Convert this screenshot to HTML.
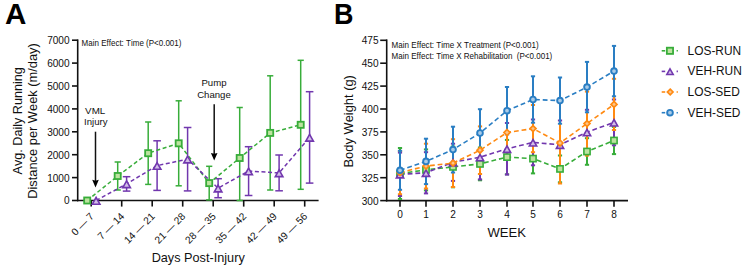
<!DOCTYPE html><html><head><meta charset="utf-8"><style>html,body{margin:0;padding:0;background:#fff;}svg{display:block;}text{font-family:"Liberation Sans", sans-serif;font-kerning:none;}</style></head><body>
<svg width="746" height="270" viewBox="0 0 746 270">
<rect width="746" height="270" fill="#fff"/>
<text x="4.90" y="24.30" font-size="29.6" text-anchor="start" font-weight="bold" fill="#000" >A</text>
<line x1="77.70" y1="39.40" x2="77.70" y2="201.30" stroke="#111" stroke-width="1.6" />
<line x1="72.00" y1="200.50" x2="77.70" y2="200.50" stroke="#111" stroke-width="1.6" />
<text x="69.60" y="204.40" font-size="10.1" text-anchor="end" font-weight="normal" fill="#111" >0</text>
<line x1="72.00" y1="177.60" x2="77.70" y2="177.60" stroke="#111" stroke-width="1.6" />
<text x="69.60" y="181.50" font-size="10.1" text-anchor="end" font-weight="normal" fill="#111" >1000</text>
<line x1="72.00" y1="154.70" x2="77.70" y2="154.70" stroke="#111" stroke-width="1.6" />
<text x="69.60" y="158.60" font-size="10.1" text-anchor="end" font-weight="normal" fill="#111" >2000</text>
<line x1="72.00" y1="131.80" x2="77.70" y2="131.80" stroke="#111" stroke-width="1.6" />
<text x="69.60" y="135.70" font-size="10.1" text-anchor="end" font-weight="normal" fill="#111" >3000</text>
<line x1="72.00" y1="108.90" x2="77.70" y2="108.90" stroke="#111" stroke-width="1.6" />
<text x="69.60" y="112.80" font-size="10.1" text-anchor="end" font-weight="normal" fill="#111" >4000</text>
<line x1="72.00" y1="86.00" x2="77.70" y2="86.00" stroke="#111" stroke-width="1.6" />
<text x="69.60" y="89.90" font-size="10.1" text-anchor="end" font-weight="normal" fill="#111" >5000</text>
<line x1="72.00" y1="63.10" x2="77.70" y2="63.10" stroke="#111" stroke-width="1.6" />
<text x="69.60" y="67.00" font-size="10.1" text-anchor="end" font-weight="normal" fill="#111" >6000</text>
<line x1="72.00" y1="40.20" x2="77.70" y2="40.20" stroke="#111" stroke-width="1.6" />
<text x="69.60" y="44.10" font-size="10.1" text-anchor="end" font-weight="normal" fill="#111" >7000</text>
<line x1="76.90" y1="200.50" x2="318.60" y2="200.50" stroke="#111" stroke-width="1.6" />
<line x1="91.20" y1="200.50" x2="91.20" y2="206.60" stroke="#111" stroke-width="1.6" />
<text x="0" y="0" font-size="10.2" text-anchor="end" fill="#111" transform="translate(94.60,217.0) rotate(-45)">0 — 7</text>
<line x1="121.70" y1="200.50" x2="121.70" y2="206.60" stroke="#111" stroke-width="1.6" />
<text x="0" y="0" font-size="10.2" text-anchor="end" fill="#111" transform="translate(125.10,217.0) rotate(-45)">7 — 14</text>
<line x1="152.20" y1="200.50" x2="152.20" y2="206.60" stroke="#111" stroke-width="1.6" />
<text x="0" y="0" font-size="10.2" text-anchor="end" fill="#111" transform="translate(155.60,217.0) rotate(-45)">14 — 21</text>
<line x1="182.70" y1="200.50" x2="182.70" y2="206.60" stroke="#111" stroke-width="1.6" />
<text x="0" y="0" font-size="10.2" text-anchor="end" fill="#111" transform="translate(186.10,217.0) rotate(-45)">21 — 28</text>
<line x1="213.20" y1="200.50" x2="213.20" y2="206.60" stroke="#111" stroke-width="1.6" />
<text x="0" y="0" font-size="10.2" text-anchor="end" fill="#111" transform="translate(216.60,217.0) rotate(-45)">28 — 35</text>
<line x1="243.70" y1="200.50" x2="243.70" y2="206.60" stroke="#111" stroke-width="1.6" />
<text x="0" y="0" font-size="10.2" text-anchor="end" fill="#111" transform="translate(247.10,217.0) rotate(-45)">35 — 42</text>
<line x1="274.20" y1="200.50" x2="274.20" y2="206.60" stroke="#111" stroke-width="1.6" />
<text x="0" y="0" font-size="10.2" text-anchor="end" fill="#111" transform="translate(277.60,217.0) rotate(-45)">42 — 49</text>
<line x1="304.70" y1="200.50" x2="304.70" y2="206.60" stroke="#111" stroke-width="1.6" />
<text x="0" y="0" font-size="10.2" text-anchor="end" fill="#111" transform="translate(308.10,217.0) rotate(-45)">49 — 56</text>
<text x="198.20" y="261.70" font-size="12.7" text-anchor="middle" font-weight="normal" fill="#111" >Days Post-Injury</text>
<text x="0" y="0" font-size="12.64" text-anchor="middle" fill="#111" transform="translate(22.3,120.8) rotate(-90)">Avg. Daily Running</text>
<text x="0" y="0" font-size="12.85" text-anchor="middle" fill="#111" transform="translate(37.1,121.0) rotate(-90)">Distance per Week (m/day)</text>
<text x="81.60" y="46.10" font-size="8.45" text-anchor="start" font-weight="normal" fill="#111" textLength="99.85" lengthAdjust="spacingAndGlyphs">Main Effect: Time (P&lt;0.001)</text>
<text x="95.20" y="113.50" font-size="9.8" text-anchor="middle" font-weight="normal" fill="#111" >VML</text>
<text x="95.80" y="125.30" font-size="9.6" text-anchor="middle" font-weight="normal" fill="#111" >Injury</text>
<line x1="95.50" y1="131.70" x2="95.50" y2="181.00" stroke="#111" stroke-width="1.5" />
<polygon points="92.2,179.8 95.5,180.7 98.8,179.8 95.5,187.6" fill="#000"/>
<text x="214.00" y="86.40" font-size="9.6" text-anchor="middle" font-weight="normal" fill="#111" >Pump</text>
<text x="214.00" y="98.30" font-size="9.6" text-anchor="middle" font-weight="normal" fill="#111" >Change</text>
<line x1="214.20" y1="104.20" x2="214.20" y2="154.00" stroke="#111" stroke-width="1.5" />
<polygon points="210.9,152.9 214.2,153.8 217.5,152.9 214.2,160.4" fill="#000"/>
<line x1="117.70" y1="162.00" x2="117.70" y2="190.00" stroke="#38ad3a" stroke-width="1.5" />
<line x1="114.60" y1="162.00" x2="120.80" y2="162.00" stroke="#38ad3a" stroke-width="1.5" />
<line x1="114.60" y1="190.00" x2="120.80" y2="190.00" stroke="#38ad3a" stroke-width="1.5" />
<line x1="148.20" y1="122.00" x2="148.20" y2="184.40" stroke="#38ad3a" stroke-width="1.5" />
<line x1="145.10" y1="122.00" x2="151.30" y2="122.00" stroke="#38ad3a" stroke-width="1.5" />
<line x1="145.10" y1="184.40" x2="151.30" y2="184.40" stroke="#38ad3a" stroke-width="1.5" />
<line x1="178.70" y1="100.80" x2="178.70" y2="185.80" stroke="#38ad3a" stroke-width="1.5" />
<line x1="175.60" y1="100.80" x2="181.80" y2="100.80" stroke="#38ad3a" stroke-width="1.5" />
<line x1="175.60" y1="185.80" x2="181.80" y2="185.80" stroke="#38ad3a" stroke-width="1.5" />
<line x1="209.20" y1="166.30" x2="209.20" y2="199.90" stroke="#38ad3a" stroke-width="1.5" />
<line x1="206.10" y1="166.30" x2="212.30" y2="166.30" stroke="#38ad3a" stroke-width="1.5" />
<line x1="206.10" y1="199.90" x2="212.30" y2="199.90" stroke="#38ad3a" stroke-width="1.5" />
<line x1="239.70" y1="107.50" x2="239.70" y2="200.50" stroke="#38ad3a" stroke-width="1.5" />
<line x1="236.60" y1="107.50" x2="242.80" y2="107.50" stroke="#38ad3a" stroke-width="1.5" />
<line x1="236.60" y1="200.50" x2="242.80" y2="200.50" stroke="#38ad3a" stroke-width="1.5" />
<line x1="270.20" y1="75.80" x2="270.20" y2="190.00" stroke="#38ad3a" stroke-width="1.5" />
<line x1="267.10" y1="75.80" x2="273.30" y2="75.80" stroke="#38ad3a" stroke-width="1.5" />
<line x1="267.10" y1="190.00" x2="273.30" y2="190.00" stroke="#38ad3a" stroke-width="1.5" />
<line x1="300.70" y1="60.30" x2="300.70" y2="189.30" stroke="#38ad3a" stroke-width="1.5" />
<line x1="297.60" y1="60.30" x2="303.80" y2="60.30" stroke="#38ad3a" stroke-width="1.5" />
<line x1="297.60" y1="189.30" x2="303.80" y2="189.30" stroke="#38ad3a" stroke-width="1.5" />
<line x1="126.60" y1="176.70" x2="126.60" y2="191.10" stroke="#7137ae" stroke-width="1.5" />
<line x1="122.80" y1="176.70" x2="130.40" y2="176.70" stroke="#7137ae" stroke-width="1.5" />
<line x1="122.80" y1="191.10" x2="130.40" y2="191.10" stroke="#7137ae" stroke-width="1.5" />
<line x1="157.10" y1="140.80" x2="157.10" y2="190.40" stroke="#7137ae" stroke-width="1.5" />
<line x1="153.30" y1="140.80" x2="160.90" y2="140.80" stroke="#7137ae" stroke-width="1.5" />
<line x1="153.30" y1="190.40" x2="160.90" y2="190.40" stroke="#7137ae" stroke-width="1.5" />
<line x1="187.60" y1="127.50" x2="187.60" y2="190.90" stroke="#7137ae" stroke-width="1.5" />
<line x1="183.80" y1="127.50" x2="191.40" y2="127.50" stroke="#7137ae" stroke-width="1.5" />
<line x1="183.80" y1="190.90" x2="191.40" y2="190.90" stroke="#7137ae" stroke-width="1.5" />
<line x1="218.10" y1="178.70" x2="218.10" y2="197.70" stroke="#7137ae" stroke-width="1.5" />
<line x1="214.30" y1="178.70" x2="221.90" y2="178.70" stroke="#7137ae" stroke-width="1.5" />
<line x1="214.30" y1="197.70" x2="221.90" y2="197.70" stroke="#7137ae" stroke-width="1.5" />
<line x1="248.60" y1="146.70" x2="248.60" y2="195.50" stroke="#7137ae" stroke-width="1.5" />
<line x1="244.80" y1="146.70" x2="252.40" y2="146.70" stroke="#7137ae" stroke-width="1.5" />
<line x1="244.80" y1="195.50" x2="252.40" y2="195.50" stroke="#7137ae" stroke-width="1.5" />
<line x1="279.10" y1="155.00" x2="279.10" y2="190.80" stroke="#7137ae" stroke-width="1.5" />
<line x1="275.30" y1="155.00" x2="282.90" y2="155.00" stroke="#7137ae" stroke-width="1.5" />
<line x1="275.30" y1="190.80" x2="282.90" y2="190.80" stroke="#7137ae" stroke-width="1.5" />
<line x1="309.60" y1="91.70" x2="309.60" y2="183.10" stroke="#7137ae" stroke-width="1.5" />
<line x1="305.80" y1="91.70" x2="313.40" y2="91.70" stroke="#7137ae" stroke-width="1.5" />
<line x1="305.80" y1="183.10" x2="313.40" y2="183.10" stroke="#7137ae" stroke-width="1.5" />
<polyline points="87.20,200.50 117.70,176.00 148.20,153.20 178.70,143.30 209.20,183.10 239.70,158.00 270.20,132.90 300.70,124.80" fill="none" stroke="#38ad3a" stroke-width="1.5" stroke-dasharray="4 2.6"/>
<polyline points="96.10,200.50 126.60,183.90 157.10,165.60 187.60,159.20 218.10,188.20 248.60,171.10 279.10,172.90 309.60,137.40" fill="none" stroke="#7137ae" stroke-width="1.5" stroke-dasharray="4 2.6"/>
<rect x="84.15" y="197.45" width="6.1" height="6.1" fill="#bde3a0" stroke="#38ad3a" stroke-width="1.8"/>
<rect x="114.65" y="172.95" width="6.1" height="6.1" fill="#bde3a0" stroke="#38ad3a" stroke-width="1.8"/>
<rect x="145.15" y="150.15" width="6.1" height="6.1" fill="#bde3a0" stroke="#38ad3a" stroke-width="1.8"/>
<rect x="175.65" y="140.25" width="6.1" height="6.1" fill="#bde3a0" stroke="#38ad3a" stroke-width="1.8"/>
<rect x="206.15" y="180.05" width="6.1" height="6.1" fill="#bde3a0" stroke="#38ad3a" stroke-width="1.8"/>
<rect x="236.65" y="154.95" width="6.1" height="6.1" fill="#bde3a0" stroke="#38ad3a" stroke-width="1.8"/>
<rect x="267.15" y="129.85" width="6.1" height="6.1" fill="#bde3a0" stroke="#38ad3a" stroke-width="1.8"/>
<rect x="297.65" y="121.75" width="6.1" height="6.1" fill="#bde3a0" stroke="#38ad3a" stroke-width="1.8"/>
<polygon points="96.10,197.49 99.90,204.18 92.30,204.18" fill="#d3bfe8" stroke="#7137ae" stroke-width="1.6" stroke-linejoin="miter"/>
<polygon points="126.60,180.89 130.40,187.58 122.80,187.58" fill="#d3bfe8" stroke="#7137ae" stroke-width="1.6" stroke-linejoin="miter"/>
<polygon points="157.10,162.59 160.90,169.28 153.30,169.28" fill="#d3bfe8" stroke="#7137ae" stroke-width="1.6" stroke-linejoin="miter"/>
<polygon points="187.60,156.19 191.40,162.88 183.80,162.88" fill="#d3bfe8" stroke="#7137ae" stroke-width="1.6" stroke-linejoin="miter"/>
<polygon points="218.10,185.19 221.90,191.88 214.30,191.88" fill="#d3bfe8" stroke="#7137ae" stroke-width="1.6" stroke-linejoin="miter"/>
<polygon points="248.60,168.09 252.40,174.78 244.80,174.78" fill="#d3bfe8" stroke="#7137ae" stroke-width="1.6" stroke-linejoin="miter"/>
<polygon points="279.10,169.89 282.90,176.58 275.30,176.58" fill="#d3bfe8" stroke="#7137ae" stroke-width="1.6" stroke-linejoin="miter"/>
<polygon points="309.60,134.39 313.40,141.08 305.80,141.08" fill="#d3bfe8" stroke="#7137ae" stroke-width="1.6" stroke-linejoin="miter"/>
<text x="0" y="0" font-size="29.6" font-weight="bold" fill="#000" transform="translate(333.9,24.3) scale(0.91,1)">B</text>
<line x1="386.70" y1="39.40" x2="386.70" y2="201.40" stroke="#111" stroke-width="1.6" />
<line x1="380.20" y1="200.60" x2="386.70" y2="200.60" stroke="#111" stroke-width="1.6" />
<text x="378.60" y="204.50" font-size="10.1" text-anchor="end" font-weight="normal" fill="#111" >300</text>
<line x1="380.20" y1="177.70" x2="386.70" y2="177.70" stroke="#111" stroke-width="1.6" />
<text x="378.60" y="181.60" font-size="10.1" text-anchor="end" font-weight="normal" fill="#111" >325</text>
<line x1="380.20" y1="154.80" x2="386.70" y2="154.80" stroke="#111" stroke-width="1.6" />
<text x="378.60" y="158.70" font-size="10.1" text-anchor="end" font-weight="normal" fill="#111" >350</text>
<line x1="380.20" y1="131.90" x2="386.70" y2="131.90" stroke="#111" stroke-width="1.6" />
<text x="378.60" y="135.80" font-size="10.1" text-anchor="end" font-weight="normal" fill="#111" >375</text>
<line x1="380.20" y1="109.00" x2="386.70" y2="109.00" stroke="#111" stroke-width="1.6" />
<text x="378.60" y="112.90" font-size="10.1" text-anchor="end" font-weight="normal" fill="#111" >400</text>
<line x1="380.20" y1="86.10" x2="386.70" y2="86.10" stroke="#111" stroke-width="1.6" />
<text x="378.60" y="90.00" font-size="10.1" text-anchor="end" font-weight="normal" fill="#111" >425</text>
<line x1="380.20" y1="63.20" x2="386.70" y2="63.20" stroke="#111" stroke-width="1.6" />
<text x="378.60" y="67.10" font-size="10.1" text-anchor="end" font-weight="normal" fill="#111" >450</text>
<line x1="380.20" y1="40.30" x2="386.70" y2="40.30" stroke="#111" stroke-width="1.6" />
<text x="378.60" y="44.20" font-size="10.1" text-anchor="end" font-weight="normal" fill="#111" >475</text>
<line x1="385.90" y1="200.60" x2="628.00" y2="200.60" stroke="#111" stroke-width="1.6" />
<line x1="400.00" y1="200.60" x2="400.00" y2="206.70" stroke="#111" stroke-width="1.6" />
<text x="400.00" y="218.40" font-size="10.1" text-anchor="middle" font-weight="normal" fill="#111" >0</text>
<line x1="426.00" y1="200.60" x2="426.00" y2="206.70" stroke="#111" stroke-width="1.6" />
<text x="426.00" y="218.40" font-size="10.1" text-anchor="middle" font-weight="normal" fill="#111" >1</text>
<line x1="453.00" y1="200.60" x2="453.00" y2="206.70" stroke="#111" stroke-width="1.6" />
<text x="453.00" y="218.40" font-size="10.1" text-anchor="middle" font-weight="normal" fill="#111" >2</text>
<line x1="480.00" y1="200.60" x2="480.00" y2="206.70" stroke="#111" stroke-width="1.6" />
<text x="480.00" y="218.40" font-size="10.1" text-anchor="middle" font-weight="normal" fill="#111" >3</text>
<line x1="507.00" y1="200.60" x2="507.00" y2="206.70" stroke="#111" stroke-width="1.6" />
<text x="507.00" y="218.40" font-size="10.1" text-anchor="middle" font-weight="normal" fill="#111" >4</text>
<line x1="533.00" y1="200.60" x2="533.00" y2="206.70" stroke="#111" stroke-width="1.6" />
<text x="533.00" y="218.40" font-size="10.1" text-anchor="middle" font-weight="normal" fill="#111" >5</text>
<line x1="560.00" y1="200.60" x2="560.00" y2="206.70" stroke="#111" stroke-width="1.6" />
<text x="560.00" y="218.40" font-size="10.1" text-anchor="middle" font-weight="normal" fill="#111" >6</text>
<line x1="587.00" y1="200.60" x2="587.00" y2="206.70" stroke="#111" stroke-width="1.6" />
<text x="587.00" y="218.40" font-size="10.1" text-anchor="middle" font-weight="normal" fill="#111" >7</text>
<line x1="614.00" y1="200.60" x2="614.00" y2="206.70" stroke="#111" stroke-width="1.6" />
<text x="614.00" y="218.40" font-size="10.1" text-anchor="middle" font-weight="normal" fill="#111" >8</text>
<text x="506.70" y="237.40" font-size="13.1" text-anchor="middle" font-weight="normal" fill="#111" >WEEK</text>
<text x="0" y="0" font-size="12.9" text-anchor="middle" fill="#111" transform="translate(353.3,121.3) rotate(-90)">Body Weight (g)</text>
<text x="391.60" y="48.10" font-size="8.45" text-anchor="start" font-weight="normal" fill="#111" textLength="147.0" lengthAdjust="spacingAndGlyphs">Main Effect: Time X Treatment (P&lt;0.001)</text>
<text x="391.60" y="58.80" font-size="8.45" text-anchor="start" font-weight="normal" fill="#111" textLength="160.7" lengthAdjust="spacingAndGlyphs">Main Effect: Time X Rehabilitation&#160; (P&lt;0.001)</text>
<line x1="400.00" y1="148.00" x2="400.00" y2="199.00" stroke="#38ad3a" stroke-width="2.0" />
<line x1="397.90" y1="148.00" x2="402.10" y2="148.00" stroke="#38ad3a" stroke-width="2.0" />
<line x1="397.90" y1="199.00" x2="402.10" y2="199.00" stroke="#38ad3a" stroke-width="2.0" />
<line x1="426.00" y1="149.40" x2="426.00" y2="190.40" stroke="#38ad3a" stroke-width="2.0" />
<line x1="423.90" y1="149.40" x2="428.10" y2="149.40" stroke="#38ad3a" stroke-width="2.0" />
<line x1="423.90" y1="190.40" x2="428.10" y2="190.40" stroke="#38ad3a" stroke-width="2.0" />
<line x1="453.00" y1="146.50" x2="453.00" y2="187.30" stroke="#38ad3a" stroke-width="2.0" />
<line x1="450.90" y1="146.50" x2="455.10" y2="146.50" stroke="#38ad3a" stroke-width="2.0" />
<line x1="450.90" y1="187.30" x2="455.10" y2="187.30" stroke="#38ad3a" stroke-width="2.0" />
<line x1="480.00" y1="147.50" x2="480.00" y2="180.30" stroke="#38ad3a" stroke-width="2.0" />
<line x1="477.90" y1="147.50" x2="482.10" y2="147.50" stroke="#38ad3a" stroke-width="2.0" />
<line x1="477.90" y1="180.30" x2="482.10" y2="180.30" stroke="#38ad3a" stroke-width="2.0" />
<line x1="507.00" y1="139.90" x2="507.00" y2="174.30" stroke="#38ad3a" stroke-width="2.0" />
<line x1="504.90" y1="139.90" x2="509.10" y2="139.90" stroke="#38ad3a" stroke-width="2.0" />
<line x1="504.90" y1="174.30" x2="509.10" y2="174.30" stroke="#38ad3a" stroke-width="2.0" />
<line x1="533.00" y1="143.80" x2="533.00" y2="173.40" stroke="#38ad3a" stroke-width="2.0" />
<line x1="530.90" y1="143.80" x2="535.10" y2="143.80" stroke="#38ad3a" stroke-width="2.0" />
<line x1="530.90" y1="173.40" x2="535.10" y2="173.40" stroke="#38ad3a" stroke-width="2.0" />
<line x1="560.00" y1="155.50" x2="560.00" y2="182.30" stroke="#38ad3a" stroke-width="2.0" />
<line x1="557.90" y1="155.50" x2="562.10" y2="155.50" stroke="#38ad3a" stroke-width="2.0" />
<line x1="557.90" y1="182.30" x2="562.10" y2="182.30" stroke="#38ad3a" stroke-width="2.0" />
<line x1="587.00" y1="138.20" x2="587.00" y2="164.80" stroke="#38ad3a" stroke-width="2.0" />
<line x1="584.90" y1="138.20" x2="589.10" y2="138.20" stroke="#38ad3a" stroke-width="2.0" />
<line x1="584.90" y1="164.80" x2="589.10" y2="164.80" stroke="#38ad3a" stroke-width="2.0" />
<line x1="614.00" y1="126.90" x2="614.00" y2="154.10" stroke="#38ad3a" stroke-width="2.0" />
<line x1="611.90" y1="126.90" x2="616.10" y2="126.90" stroke="#38ad3a" stroke-width="2.0" />
<line x1="611.90" y1="154.10" x2="616.10" y2="154.10" stroke="#38ad3a" stroke-width="2.0" />
<line x1="400.00" y1="152.60" x2="400.00" y2="196.00" stroke="#7137ae" stroke-width="2.0" />
<line x1="397.90" y1="152.60" x2="402.10" y2="152.60" stroke="#7137ae" stroke-width="2.0" />
<line x1="397.90" y1="196.00" x2="402.10" y2="196.00" stroke="#7137ae" stroke-width="2.0" />
<line x1="426.00" y1="152.20" x2="426.00" y2="193.40" stroke="#7137ae" stroke-width="2.0" />
<line x1="423.90" y1="152.20" x2="428.10" y2="152.20" stroke="#7137ae" stroke-width="2.0" />
<line x1="423.90" y1="193.40" x2="428.10" y2="193.40" stroke="#7137ae" stroke-width="2.0" />
<line x1="453.00" y1="143.70" x2="453.00" y2="180.90" stroke="#7137ae" stroke-width="2.0" />
<line x1="450.90" y1="143.70" x2="455.10" y2="143.70" stroke="#7137ae" stroke-width="2.0" />
<line x1="450.90" y1="180.90" x2="455.10" y2="180.90" stroke="#7137ae" stroke-width="2.0" />
<line x1="480.00" y1="135.00" x2="480.00" y2="179.40" stroke="#7137ae" stroke-width="2.0" />
<line x1="477.90" y1="135.00" x2="482.10" y2="135.00" stroke="#7137ae" stroke-width="2.0" />
<line x1="477.90" y1="179.40" x2="482.10" y2="179.40" stroke="#7137ae" stroke-width="2.0" />
<line x1="507.00" y1="123.00" x2="507.00" y2="174.60" stroke="#7137ae" stroke-width="2.0" />
<line x1="504.90" y1="123.00" x2="509.10" y2="123.00" stroke="#7137ae" stroke-width="2.0" />
<line x1="504.90" y1="174.60" x2="509.10" y2="174.60" stroke="#7137ae" stroke-width="2.0" />
<line x1="533.00" y1="119.50" x2="533.00" y2="165.30" stroke="#7137ae" stroke-width="2.0" />
<line x1="530.90" y1="119.50" x2="535.10" y2="119.50" stroke="#7137ae" stroke-width="2.0" />
<line x1="530.90" y1="165.30" x2="535.10" y2="165.30" stroke="#7137ae" stroke-width="2.0" />
<line x1="560.00" y1="120.50" x2="560.00" y2="169.10" stroke="#7137ae" stroke-width="2.0" />
<line x1="557.90" y1="120.50" x2="562.10" y2="120.50" stroke="#7137ae" stroke-width="2.0" />
<line x1="557.90" y1="169.10" x2="562.10" y2="169.10" stroke="#7137ae" stroke-width="2.0" />
<line x1="587.00" y1="109.80" x2="587.00" y2="154.60" stroke="#7137ae" stroke-width="2.0" />
<line x1="584.90" y1="109.80" x2="589.10" y2="109.80" stroke="#7137ae" stroke-width="2.0" />
<line x1="584.90" y1="154.60" x2="589.10" y2="154.60" stroke="#7137ae" stroke-width="2.0" />
<line x1="614.00" y1="99.50" x2="614.00" y2="145.30" stroke="#7137ae" stroke-width="2.0" />
<line x1="611.90" y1="99.50" x2="616.10" y2="99.50" stroke="#7137ae" stroke-width="2.0" />
<line x1="611.90" y1="145.30" x2="616.10" y2="145.30" stroke="#7137ae" stroke-width="2.0" />
<line x1="400.00" y1="151.00" x2="400.00" y2="194.20" stroke="#ff8a12" stroke-width="2.0" />
<line x1="397.90" y1="151.00" x2="402.10" y2="151.00" stroke="#ff8a12" stroke-width="2.0" />
<line x1="397.90" y1="194.20" x2="402.10" y2="194.20" stroke="#ff8a12" stroke-width="2.0" />
<line x1="426.00" y1="143.70" x2="426.00" y2="188.50" stroke="#ff8a12" stroke-width="2.0" />
<line x1="423.90" y1="143.70" x2="428.10" y2="143.70" stroke="#ff8a12" stroke-width="2.0" />
<line x1="423.90" y1="188.50" x2="428.10" y2="188.50" stroke="#ff8a12" stroke-width="2.0" />
<line x1="453.00" y1="139.20" x2="453.00" y2="187.00" stroke="#ff8a12" stroke-width="2.0" />
<line x1="450.90" y1="139.20" x2="455.10" y2="139.20" stroke="#ff8a12" stroke-width="2.0" />
<line x1="450.90" y1="187.00" x2="455.10" y2="187.00" stroke="#ff8a12" stroke-width="2.0" />
<line x1="480.00" y1="126.40" x2="480.00" y2="174.00" stroke="#ff8a12" stroke-width="2.0" />
<line x1="477.90" y1="126.40" x2="482.10" y2="126.40" stroke="#ff8a12" stroke-width="2.0" />
<line x1="477.90" y1="174.00" x2="482.10" y2="174.00" stroke="#ff8a12" stroke-width="2.0" />
<line x1="507.00" y1="112.80" x2="507.00" y2="152.20" stroke="#ff8a12" stroke-width="2.0" />
<line x1="504.90" y1="112.80" x2="509.10" y2="112.80" stroke="#ff8a12" stroke-width="2.0" />
<line x1="504.90" y1="152.20" x2="509.10" y2="152.20" stroke="#ff8a12" stroke-width="2.0" />
<line x1="533.00" y1="105.00" x2="533.00" y2="152.20" stroke="#ff8a12" stroke-width="2.0" />
<line x1="530.90" y1="105.00" x2="535.10" y2="105.00" stroke="#ff8a12" stroke-width="2.0" />
<line x1="530.90" y1="152.20" x2="535.10" y2="152.20" stroke="#ff8a12" stroke-width="2.0" />
<line x1="560.00" y1="102.50" x2="560.00" y2="183.50" stroke="#ff8a12" stroke-width="2.0" />
<line x1="557.90" y1="102.50" x2="562.10" y2="102.50" stroke="#ff8a12" stroke-width="2.0" />
<line x1="557.90" y1="183.50" x2="562.10" y2="183.50" stroke="#ff8a12" stroke-width="2.0" />
<line x1="587.00" y1="91.60" x2="587.00" y2="155.60" stroke="#ff8a12" stroke-width="2.0" />
<line x1="584.90" y1="91.60" x2="589.10" y2="91.60" stroke="#ff8a12" stroke-width="2.0" />
<line x1="584.90" y1="155.60" x2="589.10" y2="155.60" stroke="#ff8a12" stroke-width="2.0" />
<line x1="614.00" y1="78.80" x2="614.00" y2="130.00" stroke="#ff8a12" stroke-width="2.0" />
<line x1="611.90" y1="78.80" x2="616.10" y2="78.80" stroke="#ff8a12" stroke-width="2.0" />
<line x1="611.90" y1="130.00" x2="616.10" y2="130.00" stroke="#ff8a12" stroke-width="2.0" />
<line x1="400.00" y1="150.80" x2="400.00" y2="189.80" stroke="#2a7ec3" stroke-width="2.0" />
<line x1="397.90" y1="150.80" x2="402.10" y2="150.80" stroke="#2a7ec3" stroke-width="2.0" />
<line x1="397.90" y1="189.80" x2="402.10" y2="189.80" stroke="#2a7ec3" stroke-width="2.0" />
<line x1="426.00" y1="138.70" x2="426.00" y2="184.10" stroke="#2a7ec3" stroke-width="2.0" />
<line x1="423.90" y1="138.70" x2="428.10" y2="138.70" stroke="#2a7ec3" stroke-width="2.0" />
<line x1="423.90" y1="184.10" x2="428.10" y2="184.10" stroke="#2a7ec3" stroke-width="2.0" />
<line x1="453.00" y1="126.70" x2="453.00" y2="172.50" stroke="#2a7ec3" stroke-width="2.0" />
<line x1="450.90" y1="126.70" x2="455.10" y2="126.70" stroke="#2a7ec3" stroke-width="2.0" />
<line x1="450.90" y1="172.50" x2="455.10" y2="172.50" stroke="#2a7ec3" stroke-width="2.0" />
<line x1="480.00" y1="109.20" x2="480.00" y2="156.80" stroke="#2a7ec3" stroke-width="2.0" />
<line x1="477.90" y1="109.20" x2="482.10" y2="109.20" stroke="#2a7ec3" stroke-width="2.0" />
<line x1="477.90" y1="156.80" x2="482.10" y2="156.80" stroke="#2a7ec3" stroke-width="2.0" />
<line x1="507.00" y1="87.00" x2="507.00" y2="134.40" stroke="#2a7ec3" stroke-width="2.0" />
<line x1="504.90" y1="87.00" x2="509.10" y2="87.00" stroke="#2a7ec3" stroke-width="2.0" />
<line x1="504.90" y1="134.40" x2="509.10" y2="134.40" stroke="#2a7ec3" stroke-width="2.0" />
<line x1="533.00" y1="76.30" x2="533.00" y2="122.70" stroke="#2a7ec3" stroke-width="2.0" />
<line x1="530.90" y1="76.30" x2="535.10" y2="76.30" stroke="#2a7ec3" stroke-width="2.0" />
<line x1="530.90" y1="122.70" x2="535.10" y2="122.70" stroke="#2a7ec3" stroke-width="2.0" />
<line x1="560.00" y1="77.50" x2="560.00" y2="123.70" stroke="#2a7ec3" stroke-width="2.0" />
<line x1="557.90" y1="77.50" x2="562.10" y2="77.50" stroke="#2a7ec3" stroke-width="2.0" />
<line x1="557.90" y1="123.70" x2="562.10" y2="123.70" stroke="#2a7ec3" stroke-width="2.0" />
<line x1="587.00" y1="61.90" x2="587.00" y2="112.30" stroke="#2a7ec3" stroke-width="2.0" />
<line x1="584.90" y1="61.90" x2="589.10" y2="61.90" stroke="#2a7ec3" stroke-width="2.0" />
<line x1="584.90" y1="112.30" x2="589.10" y2="112.30" stroke="#2a7ec3" stroke-width="2.0" />
<line x1="614.00" y1="45.90" x2="614.00" y2="96.30" stroke="#2a7ec3" stroke-width="2.0" />
<line x1="611.90" y1="45.90" x2="616.10" y2="45.90" stroke="#2a7ec3" stroke-width="2.0" />
<line x1="611.90" y1="96.30" x2="616.10" y2="96.30" stroke="#2a7ec3" stroke-width="2.0" />
<polyline points="400.00,173.50 426.00,169.90 453.00,166.90 480.00,163.90 507.00,157.10 533.00,158.60 560.00,168.90 587.00,151.50 614.00,140.50" fill="none" stroke="#38ad3a" stroke-width="1.6" stroke-dasharray="4.8 2.9"/>
<polyline points="400.00,174.30 426.00,172.80 453.00,162.30 480.00,157.20 507.00,148.80 533.00,142.40 560.00,144.80 587.00,132.20 614.00,122.40" fill="none" stroke="#7137ae" stroke-width="1.6" stroke-dasharray="4.8 2.9"/>
<polyline points="400.00,172.60 426.00,166.10 453.00,163.10 480.00,150.20 507.00,132.50 533.00,128.60 560.00,143.00 587.00,123.60 614.00,104.40" fill="none" stroke="#ff8a12" stroke-width="1.6" stroke-dasharray="4.8 2.9"/>
<polyline points="400.00,170.30 426.00,161.40 453.00,149.60 480.00,133.00 507.00,110.70 533.00,99.50 560.00,100.60 587.00,87.10 614.00,71.10" fill="none" stroke="#2a7ec3" stroke-width="1.6" stroke-dasharray="4.8 2.9"/>
<rect x="396.90" y="170.40" width="6.2" height="6.2" fill="#bde3a0" stroke="#38ad3a" stroke-width="1.6"/>
<rect x="422.90" y="166.80" width="6.2" height="6.2" fill="#bde3a0" stroke="#38ad3a" stroke-width="1.6"/>
<rect x="449.90" y="163.80" width="6.2" height="6.2" fill="#bde3a0" stroke="#38ad3a" stroke-width="1.6"/>
<rect x="476.90" y="160.80" width="6.2" height="6.2" fill="#bde3a0" stroke="#38ad3a" stroke-width="1.6"/>
<rect x="503.90" y="154.00" width="6.2" height="6.2" fill="#bde3a0" stroke="#38ad3a" stroke-width="1.6"/>
<rect x="529.90" y="155.50" width="6.2" height="6.2" fill="#bde3a0" stroke="#38ad3a" stroke-width="1.6"/>
<rect x="556.90" y="165.80" width="6.2" height="6.2" fill="#bde3a0" stroke="#38ad3a" stroke-width="1.6"/>
<rect x="583.90" y="148.40" width="6.2" height="6.2" fill="#bde3a0" stroke="#38ad3a" stroke-width="1.6"/>
<rect x="610.90" y="137.40" width="6.2" height="6.2" fill="#bde3a0" stroke="#38ad3a" stroke-width="1.6"/>
<polygon points="400.00,171.41 403.65,177.83 396.35,177.83" fill="#d3bfe8" stroke="#7137ae" stroke-width="1.6" stroke-linejoin="miter"/>
<polygon points="426.00,169.91 429.65,176.33 422.35,176.33" fill="#d3bfe8" stroke="#7137ae" stroke-width="1.6" stroke-linejoin="miter"/>
<polygon points="453.00,159.41 456.65,165.83 449.35,165.83" fill="#d3bfe8" stroke="#7137ae" stroke-width="1.6" stroke-linejoin="miter"/>
<polygon points="480.00,154.31 483.65,160.73 476.35,160.73" fill="#d3bfe8" stroke="#7137ae" stroke-width="1.6" stroke-linejoin="miter"/>
<polygon points="507.00,145.91 510.65,152.33 503.35,152.33" fill="#d3bfe8" stroke="#7137ae" stroke-width="1.6" stroke-linejoin="miter"/>
<polygon points="533.00,139.51 536.65,145.93 529.35,145.93" fill="#d3bfe8" stroke="#7137ae" stroke-width="1.6" stroke-linejoin="miter"/>
<polygon points="560.00,141.91 563.65,148.33 556.35,148.33" fill="#d3bfe8" stroke="#7137ae" stroke-width="1.6" stroke-linejoin="miter"/>
<polygon points="587.00,129.31 590.65,135.73 583.35,135.73" fill="#d3bfe8" stroke="#7137ae" stroke-width="1.6" stroke-linejoin="miter"/>
<polygon points="614.00,119.51 617.65,125.93 610.35,125.93" fill="#d3bfe8" stroke="#7137ae" stroke-width="1.6" stroke-linejoin="miter"/>
<polygon points="400.00,169.60 403.00,172.60 400.00,175.60 397.00,172.60" fill="#fcc58a" stroke="#ff8a12" stroke-width="1.7"/>
<polygon points="426.00,163.10 429.00,166.10 426.00,169.10 423.00,166.10" fill="#fcc58a" stroke="#ff8a12" stroke-width="1.7"/>
<polygon points="453.00,160.10 456.00,163.10 453.00,166.10 450.00,163.10" fill="#fcc58a" stroke="#ff8a12" stroke-width="1.7"/>
<polygon points="480.00,147.20 483.00,150.20 480.00,153.20 477.00,150.20" fill="#fcc58a" stroke="#ff8a12" stroke-width="1.7"/>
<polygon points="507.00,129.50 510.00,132.50 507.00,135.50 504.00,132.50" fill="#fcc58a" stroke="#ff8a12" stroke-width="1.7"/>
<polygon points="533.00,125.60 536.00,128.60 533.00,131.60 530.00,128.60" fill="#fcc58a" stroke="#ff8a12" stroke-width="1.7"/>
<polygon points="560.00,140.00 563.00,143.00 560.00,146.00 557.00,143.00" fill="#fcc58a" stroke="#ff8a12" stroke-width="1.7"/>
<polygon points="587.00,120.60 590.00,123.60 587.00,126.60 584.00,123.60" fill="#fcc58a" stroke="#ff8a12" stroke-width="1.7"/>
<polygon points="614.00,101.40 617.00,104.40 614.00,107.40 611.00,104.40" fill="#fcc58a" stroke="#ff8a12" stroke-width="1.7"/>
<circle cx="400.00" cy="170.30" r="2.85" fill="#a9cbe8" stroke="#2a7ec3" stroke-width="1.9"/>
<circle cx="426.00" cy="161.40" r="2.85" fill="#a9cbe8" stroke="#2a7ec3" stroke-width="1.9"/>
<circle cx="453.00" cy="149.60" r="2.85" fill="#a9cbe8" stroke="#2a7ec3" stroke-width="1.9"/>
<circle cx="480.00" cy="133.00" r="2.85" fill="#a9cbe8" stroke="#2a7ec3" stroke-width="1.9"/>
<circle cx="507.00" cy="110.70" r="2.85" fill="#a9cbe8" stroke="#2a7ec3" stroke-width="1.9"/>
<circle cx="533.00" cy="99.50" r="2.85" fill="#a9cbe8" stroke="#2a7ec3" stroke-width="1.9"/>
<circle cx="560.00" cy="100.60" r="2.85" fill="#a9cbe8" stroke="#2a7ec3" stroke-width="1.9"/>
<circle cx="587.00" cy="87.10" r="2.85" fill="#a9cbe8" stroke="#2a7ec3" stroke-width="1.9"/>
<circle cx="614.00" cy="71.10" r="2.85" fill="#a9cbe8" stroke="#2a7ec3" stroke-width="1.9"/>
<line x1="661.70" y1="50.80" x2="665.20" y2="50.80" stroke="#38ad3a" stroke-width="1.6" />
<line x1="676.60" y1="50.80" x2="677.90" y2="50.80" stroke="#38ad3a" stroke-width="1.6" />
<rect x="666.85" y="47.70" width="6.2" height="6.2" fill="#bde3a0" stroke="#38ad3a" stroke-width="1.8"/>
<text x="687.60" y="54.80" font-size="11.9" text-anchor="start" font-weight="normal" fill="#111" >LOS-RUN</text>
<line x1="661.70" y1="71.40" x2="665.20" y2="71.40" stroke="#7137ae" stroke-width="1.6" />
<line x1="676.60" y1="71.40" x2="677.90" y2="71.40" stroke="#7137ae" stroke-width="1.6" />
<polygon points="670.00,68.91 673.15,74.45 666.85,74.45" fill="#d3bfe8" stroke="#7137ae" stroke-width="1.6" stroke-linejoin="miter"/>
<text x="687.60" y="75.40" font-size="11.9" text-anchor="start" font-weight="normal" fill="#111" >VEH-RUN</text>
<line x1="661.70" y1="92.00" x2="665.20" y2="92.00" stroke="#ff8a12" stroke-width="1.6" />
<line x1="676.60" y1="92.00" x2="677.90" y2="92.00" stroke="#ff8a12" stroke-width="1.6" />
<polygon points="670.20,89.20 673.00,92.00 670.20,94.80 667.40,92.00" fill="#fcc58a" stroke="#ff8a12" stroke-width="1.7"/>
<text x="687.60" y="96.00" font-size="11.9" text-anchor="start" font-weight="normal" fill="#111" >LOS-SED</text>
<line x1="661.70" y1="112.70" x2="665.20" y2="112.70" stroke="#2a7ec3" stroke-width="1.6" />
<line x1="676.60" y1="112.70" x2="677.90" y2="112.70" stroke="#2a7ec3" stroke-width="1.6" />
<circle cx="670.00" cy="112.70" r="2.85" fill="#a9cbe8" stroke="#2a7ec3" stroke-width="1.9"/>
<text x="687.60" y="116.70" font-size="11.9" text-anchor="start" font-weight="normal" fill="#111" >VEH-SED</text>
</svg></body></html>
